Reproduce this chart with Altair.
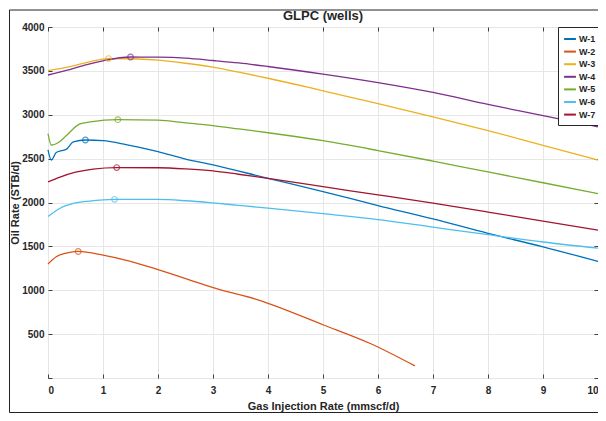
import altair as alt
import pandas as pd

wells = ["W-1", "W-2", "W-3", "W-4", "W-5", "W-6", "W-7"]
colors = ["#0072BD", "#D95319", "#EDB120", "#7E2F8E", "#77AC30", "#4DBEEE", "#A2142F"]

w1_x = [0, 0.06, 0.15, 0.24, 0.33, 0.46, 0.68, 1.0, 1.42, 2.0, 2.5, 3, 4, 5, 6, 7, 8, 9, 10]
w1_y = [2600, 2483, 2570, 2590, 2605, 2690, 2712, 2704, 2660, 2580, 2495, 2430, 2275, 2124, 1965, 1813, 1648, 1495, 1329]

w2_x = [0, 0.15, 0.33, 0.55, 1.0, 1.5, 2.0, 2.75, 3.02, 3.83, 5.0, 5.87, 6.67]
w2_y = [1300, 1382, 1423, 1442, 1401, 1330, 1236, 1082, 1026, 888, 607, 390, 138]

w3_x = [0, 0.33, 0.64, 1.1, 1.5, 2.0, 2.5, 3, 3.47, 4, 5, 6, 7, 8, 9, 10]
w3_y = [3502, 3540, 3585, 3640, 3638, 3622, 3587, 3542, 3485, 3416, 3273, 3127, 2977, 2820, 2652, 2483]

w4_x = [0, 0.33, 0.64, 1.0, 1.5, 2.0, 2.5, 3, 3.47, 4, 5, 6, 7, 8, 9, 10]
w4_y = [3453, 3505, 3560, 3615, 3658, 3656, 3645, 3618, 3590, 3550, 3464, 3367, 3255, 3117, 2990, 2862]

w5_x = [0, 0.06, 0.21, 0.33, 0.58, 0.77, 1.27, 2.0, 2.5, 3, 3.47, 4, 5, 6, 7, 8, 9, 10]
w5_y = [2786, 2655, 2693, 2760, 2895, 2918, 2944, 2938, 2908, 2876, 2838, 2795, 2704, 2592, 2472, 2348, 2225, 2101]

w6_x = [0, 0.22, 0.46, 0.75, 1.21, 2.0, 2.5, 3, 3.46, 4, 5, 6, 7, 8, 9, 10]
w6_y = [1840, 1935, 1989, 2016, 2036, 2035, 2020, 1995, 1968, 1936, 1873, 1806, 1719, 1633, 1550, 1480]

w7_x = [0, 0.22, 0.5, 0.82, 1.25, 2.0, 2.5, 3, 3.46, 4, 5, 6, 7, 8, 9, 10]
w7_y = [2236, 2290, 2345, 2381, 2398, 2396, 2383, 2360, 2322, 2275, 2180, 2087, 1992, 1891, 1787, 1685]

opt_x = [0.68, 0.55, 1.1, 1.5, 1.27, 1.21, 1.25]
opt_y = [2712, 1442, 3640, 3658, 2944, 2036, 2398]

x_ticks = [0, 1, 2, 3, 4, 5, 6, 7, 8, 9, 10]
y_ticks = [0, 500, 1000, 1500, 2000, 2500, 3000, 3500, 4000]
chart_title = ["GLPC (wells)"]

all_x = [w1_x, w2_x, w3_x, w4_x, w5_x, w6_x, w7_x]
all_y = [w1_y, w2_y, w3_y, w4_y, w5_y, w6_y, w7_y]

rows = []
for name, xs, ys in zip(wells, all_x, all_y):
    for i, (a, b) in enumerate(zip(xs, ys)):
        rows.append({"well": name, "gas": a, "oil": b, "order": i})
df = pd.DataFrame(rows)
opt = pd.DataFrame({"well": wells, "gas": opt_x, "oil": opt_y})

W, H = 550, 351
xscale = alt.Scale(domain=[0, 10], nice=False)
yscale = alt.Scale(domain=[0, 4000], nice=False)
cscale = alt.Scale(domain=wells, range=colors)

legend = alt.Legend(
    title=None, orient="none", legendX=W - 40, legendY=0,
    padding=5, strokeColor="#262626", fillColor="white",
    symbolType="stroke", symbolSize=140, symbolStrokeWidth=2,
    labelFontSize=9, labelFontWeight="bold", labelColor="#262626",
    rowPadding=0.6, labelOffset=2,
)

lines = alt.Chart(df).mark_line(strokeWidth=1.3, interpolate="monotone").encode(
    x=alt.X("gas:Q", scale=xscale,
            axis=alt.Axis(title="Gas Injection Rate (mmscf/d)", values=x_ticks, tickSize=0,
                          labelPadding=7, titlePadding=5, format="d")),
    y=alt.Y("oil:Q", scale=yscale,
            axis=alt.Axis(title="Oil Rate (STB/d)", values=y_ticks, tickSize=0, format="d",
                          labelExpr="datum.value == 0 ? '' : datum.label",
                          labelPadding=4, titlePadding=1)),
    color=alt.Color("well:N", scale=cscale, legend=legend),
    order="order:Q",
)

points = alt.Chart(opt).mark_point(shape="circle", filled=False, size=32, strokeWidth=1.2).encode(
    x=alt.X("gas:Q", scale=xscale,
            axis=alt.Axis(orient="top", offset=-H, labels=False, title=None, grid=False,
                          domain=False, values=x_ticks, tickSize=4, tickColor="#404040")),
    y=alt.Y("oil:Q", scale=yscale,
            axis=alt.Axis(orient="right", offset=-W, labels=False, title=None, grid=False,
                          domain=False, values=y_ticks, tickSize=4, tickColor="#404040")),
    color=alt.Color("well:N", scale=cscale, legend=None),
)

ghost = alt.Chart(opt).mark_point(opacity=0).encode(
    x=alt.X("gas:Q", scale=xscale,
            axis=alt.Axis(orient="bottom", offset=-H, labels=False, title=None, grid=False,
                          domain=False, values=x_ticks, tickSize=4, tickColor="#404040")),
    y=alt.Y("oil:Q", scale=yscale,
            axis=alt.Axis(orient="left", offset=-W, labels=False, title=None, grid=False,
                          domain=False, values=y_ticks, tickSize=4, tickColor="#404040")),
)

title = alt.Chart(pd.DataFrame({"t": chart_title})).mark_text(
    font="Liberation Sans", fontSize=13, fontWeight="bold", color="#262626",
    baseline="middle", align="center"
).encode(text="t:N", x=alt.value(W / 2), y=alt.value(-11))

frame = alt.Chart(pd.DataFrame({"a": [0]})).mark_rect(
    fillOpacity=0, stroke="#222222", strokeWidth=1
).encode(
    x=alt.value(-38.5), x2=alt.value(W + 20), y=alt.value(-17), y2=alt.value(H + 34.5)
)

chart = alt.layer(lines, points, ghost, title, frame).resolve_axis(
    x="independent", y="independent"
).properties(
    width=W, height=H,
    padding={"left": 40, "top": 19, "right": 0, "bottom": 35},
    autosize=alt.AutoSizeParams(type="none"),
).configure_view(
    stroke="#404040", strokeWidth=1
).configure_axis(
    labelFont="Liberation Sans", titleFont="Liberation Sans",
    labelFontSize=10, labelFontWeight="bold", labelColor="#262626",
    titleFontSize=11, titleFontWeight="bold", titleColor="#262626",
    gridColor="#e6e6e6", gridWidth=1, domain=False,
).configure_legend(
    labelFont="Liberation Sans"
)

chart.save("out.html", embed_options={"renderer": "svg", "actions": False})
